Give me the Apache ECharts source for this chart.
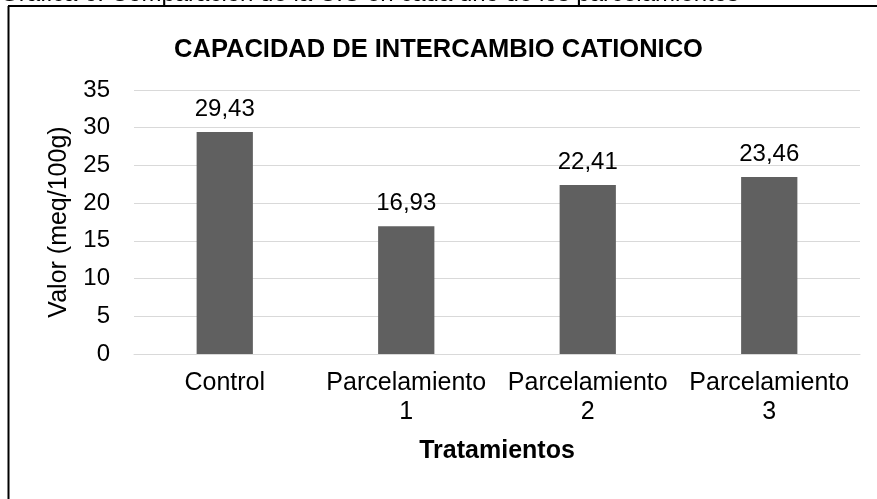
<!DOCTYPE html>
<html>
<head>
<meta charset="utf-8">
<script src="https://cdn.jsdelivr.net/npm/echarts@6/dist/echarts.min.js"></script>
<style>
  html, body { margin: 0; padding: 0; background: #fff; }
  #chart { width: 877px; height: 499px; }
</style>
</head>
<body>
<div id="chart"></div>
<script>
    // datos de la grafica
    const categorias = ['Control', 'Parcelamiento\n1', 'Parcelamiento\n2', 'Parcelamiento\n3'];
    const valores = [29.43, 16.93, 22.41, 23.46];
    const ejeY = [0, 5, 10, 15, 20, 25, 30, 35];

    let myChart = echarts.init(document.getElementById('chart'));

    const fuente = 'Liberation Sans, Arial, sans-serif';

    let option = {
        backgroundColor: '#fff',
        textStyle: { fontFamily: fuente },
        title: {
            text: 'CAPACIDAD DE INTERCAMBIO CATIONICO',
            left: 'center',
            top: 32,
            textStyle: { fontSize: 25.5, fontWeight: 'bold', color: '#000', fontFamily: fuente }
        },
        graphic: [
            {
                type: 'text',
                left: 0,
                top: -18,
                style: {
                    text: 'Gráfica 6. Comparación de la CIC en cada uno de los parcelamientos',
                    font: '24px ' + fuente,
                    fill: '#000'
                }
            },
            {
                type: 'line',
                shape: { x1: 8, y1: 6, x2: 877, y2: 6 },
                style: { stroke: '#000', lineWidth: 2 }
            },
            {
                type: 'line',
                shape: { x1: 8.5, y1: 6, x2: 8.5, y2: 499 },
                style: { stroke: '#000', lineWidth: 2 }
            }
        ],
        grid: {
            left: 134,
            right: 17,
            top: 90,
            bottom: 145
        },
        xAxis: {
            type: 'category',
            data: categorias,
            name: 'Tratamientos',
            nameLocation: 'middle',
            nameGap: 85,
            nameTextStyle: { fontSize: 25, fontWeight: 'bold', color: '#000', fontFamily: fuente },
            axisLine: { lineStyle: { color: '#d9d9d9', width: 1 } },
            axisTick: { show: false },
            axisLabel: { fontSize: 25, color: '#000', lineHeight: 29, margin: 15, interval: 0 }
        },
        yAxis: {
            type: 'value',
            min: ejeY[0],
            max: ejeY[ejeY.length - 1],
            interval: ejeY[1] - ejeY[0],
            name: 'Valor (meq/100g)',
            nameLocation: 'middle',
            nameGap: 62,
            nameTextStyle: { fontSize: 25, color: '#000', fontFamily: fuente },
            axisLine: { show: false },
            axisTick: { show: false },
            axisLabel: { fontSize: 24, color: '#000', margin: 24 },
            splitLine: { lineStyle: { color: '#d9d9d9', width: 1 } }
        },
        series: [
            {
                type: 'bar',
                data: valores,
                barWidth: '31%',
                itemStyle: { color: '#606060' },
                label: {
                    show: true,
                    position: 'top',
                    distance: 11,
                    fontSize: 24,
                    color: '#000',
                    formatter: function (p) { return p.value.toFixed(2).replace('.', ','); }
                }
            }
        ]
    };

    myChart.setOption(option);
</script>
</body>
</html>
